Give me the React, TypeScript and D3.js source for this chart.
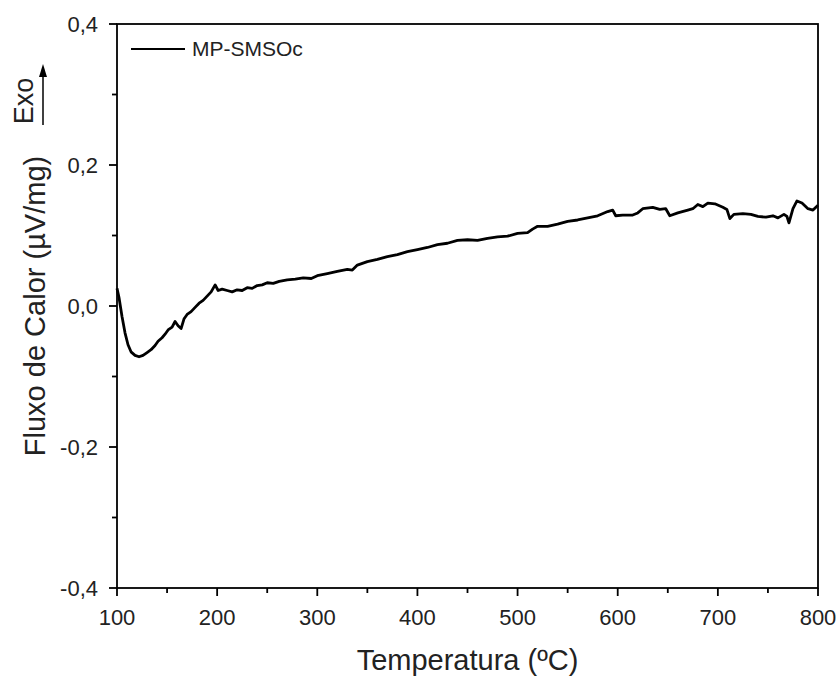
import React from "react";
import * as d3 from "d3";

const temps = [100,102,105,108,111,114,118,122,126,130,134,138,141,145,148,151,155,158,161,164,167,170,174,178,182,186,190,194,198,201,205,210,215,220,225,230,235,240,245,250,256,262,270,278,286,294,300,310,320,330,335,340,350,360,370,380,390,400,410,420,430,440,450,460,470,480,490,500,510,515,520,530,540,550,560,570,580,590,595,598,605,615,620,625,635,642,648,652,660,670,675,680,685,690,697,705,709,712,716,725,733,740,748,755,760,766,769,771,775,779,784,790,795,800];
const flux = [0.025,0.012,-0.015,-0.038,-0.055,-0.065,-0.070,-0.072,-0.070,-0.066,-0.062,-0.056,-0.050,-0.045,-0.040,-0.034,-0.030,-0.022,-0.028,-0.032,-0.018,-0.012,-0.008,-0.002,0.004,0.008,0.014,0.020,0.030,0.022,0.024,0.022,0.020,0.023,0.022,0.026,0.025,0.029,0.030,0.033,0.032,0.035,0.037,0.038,0.040,0.039,0.043,0.046,0.049,0.052,0.051,0.058,0.063,0.066,0.070,0.073,0.077,0.080,0.083,0.087,0.089,0.093,0.094,0.093,0.096,0.098,0.099,0.103,0.104,0.109,0.113,0.113,0.116,0.120,0.122,0.125,0.128,0.134,0.136,0.128,0.129,0.129,0.132,0.138,0.140,0.137,0.138,0.128,0.132,0.136,0.138,0.144,0.141,0.146,0.145,0.140,0.137,0.124,0.130,0.131,0.130,0.127,0.126,0.128,0.125,0.130,0.127,0.118,0.138,0.149,0.146,0.138,0.136,0.143];

const xMajor = [100,200,300,400,500,600,700,800];
const xMinor = [150,250,350,450,550,650,750];
const yMajor = [-0.4,-0.2,0,0.2,0.4];
const yMinor = [-0.3,-0.1,0.1,0.3];
const seriesName = "MP-SMSOc";

const W = 840, H = 677;
const M = { left: 117, right: 818, top: 24, bottom: 588 };
const font = "Arial, 'Liberation Sans', sans-serif";

export default function App() {
  const x = d3.scaleLinear().domain([100, 800]).range([M.left, M.right]);
  const y = d3.scaleLinear().domain([-0.4, 0.4]).range([M.bottom, M.top]);
  const data = temps.map((t, i) => [t, flux[i]] as [number, number]);
  const line = d3.line<[number, number]>().x(d => x(d[0])).y(d => y(d[1]));
  const fmt = (v: number) => d3.format(".1f")(v).replace(".", ",").replace("−", "-");
  return (
    <svg width={W} height={H} style={{ position: "absolute", left: 0, top: 0, background: "#fff" }}>
      <rect x={0} y={0} width={W} height={H} fill="#fff" />
      <path d={line(data) || ""} fill="none" stroke="#000" strokeWidth={2.8} strokeLinejoin="round" />
      <rect x={M.left} y={M.top} width={M.right - M.left} height={M.bottom - M.top} fill="none" stroke="#000" strokeWidth={1.8} />
      {xMajor.map(v => (
        <g key={"xm" + v}>
          <line x1={x(v)} x2={x(v)} y1={M.bottom} y2={M.bottom + 8} stroke="#000" strokeWidth={1.8} />
          <text x={x(v)} y={625} textAnchor="middle" fontFamily={font} fontSize={22} fill="#222">{v}</text>
        </g>
      ))}
      {xMinor.map(v => (
        <line key={"xn" + v} x1={x(v)} x2={x(v)} y1={M.bottom} y2={M.bottom + 5} stroke="#000" strokeWidth={1.8} />
      ))}
      {yMajor.map(v => (
        <g key={"ym" + v}>
          <line x1={M.left - 8} x2={M.left} y1={y(v)} y2={y(v)} stroke="#000" strokeWidth={1.8} />
          <text x={98} y={y(v)} dy="0.35em" textAnchor="end" fontFamily={font} fontSize={22} fill="#222">{fmt(v)}</text>
        </g>
      ))}
      {yMinor.map(v => (
        <line key={"yn" + v} x1={M.left - 5} x2={M.left} y1={y(v)} y2={y(v)} stroke="#000" strokeWidth={1.8} />
      ))}
      <text x={(M.left + M.right) / 2} y={670} textAnchor="middle" fontFamily={font} fontSize={29} fill="#222">Temperatura (ºC)</text>
      <text transform={`translate(45, ${(M.top + M.bottom) / 2}) rotate(-90)`} textAnchor="middle" fontFamily={font} fontSize={29} fill="#222">Fluxo de Calor (µV/mg)</text>
      <text transform={`translate(33, 101) rotate(-90)`} textAnchor="middle" fontFamily={font} fontSize={27} fill="#222">Exo</text>
      <line x1={43} x2={43} y1={125} y2={74} stroke="#000" strokeWidth={1.5} />
      <path d="M43,64 L39,77 L47,77 Z" fill="#000" />
      <line x1={131} x2={185} y1={49} y2={49} stroke="#000" strokeWidth={2.2} />
      <text x={192} y={49} dy="0.35em" fontFamily={font} fontSize={21} fill="#222">{seriesName}</text>
    </svg>
  );
}
